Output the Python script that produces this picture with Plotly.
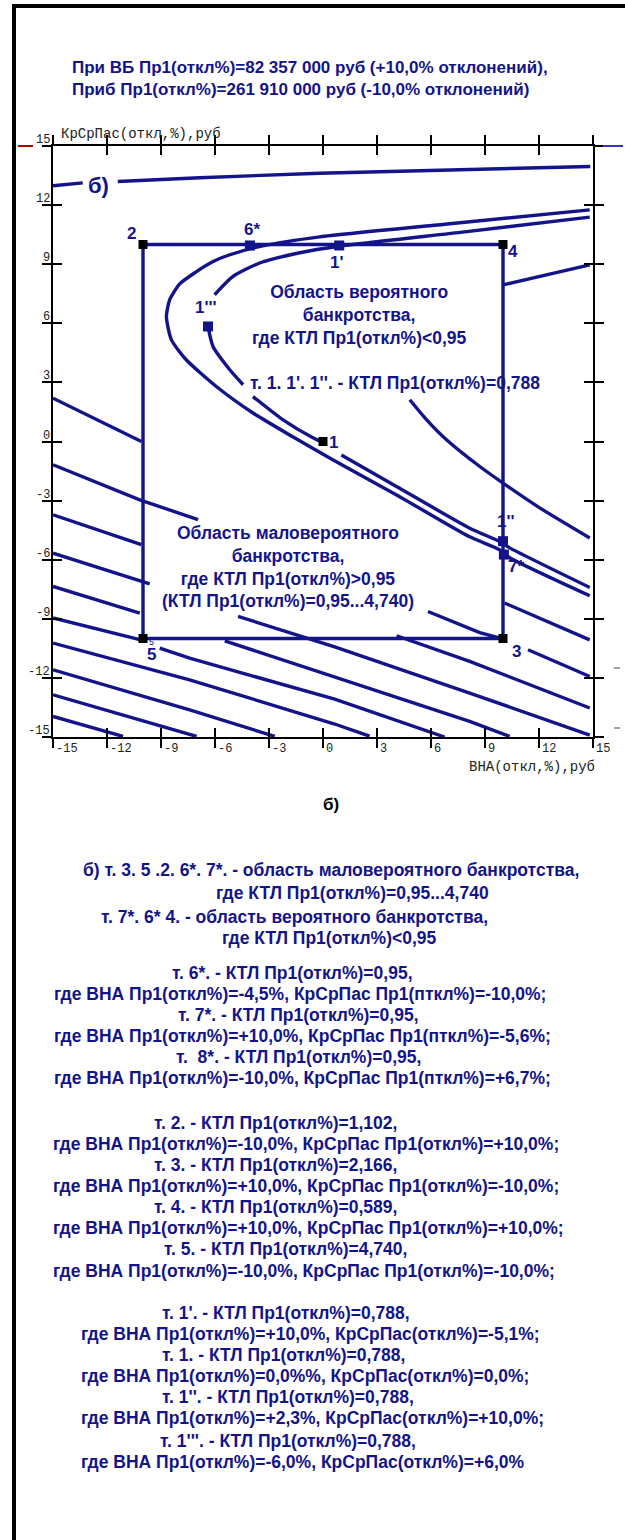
import plotly.graph_objects as go

# ---------------- data ----------------
x_ticks = [-15, -12, -9, -6, -3, 0, 3, 6, 9, 12, 15]
y_ticks = [-15, -12, -9, -6, -3, 0, 3, 6, 9, 12, 15]

# contour lines (None = gap in the drawn line)
top_x = [-15.0, -13.35, None, -11.4, -6.85, -0.18, 7.04, 14.85]
top_y = [12.98, 13.13, None, 13.2, 13.39, 13.62, 13.79, 13.96]

c095_x = [14.82, 6.76, -0.18, -3.35, -5.18, -6.13, -7.13, -7.96, -8.52, -8.7, -8.42, -7.6,
          -5.91, -3.91, -1.68, 0.54, 4.09, 8.15, 9.82, 10.37, 14.82]
c095_y = [11.76, 11.03, 10.39, 9.93, 9.48, 9.12, 8.56, 8.0, 7.19, 6.33, 5.16, 4.15,
          2.78, 1.46, 0.24, -0.93, -2.71, -4.84, -5.5, -5.9, -7.83]

c0788_x = [14.82, 7.87, 0.89, -1.29, -3.52, -5.0, -6.02, None,
           -6.39, -6.11, -5.18, -4.44, None,
           -3.89, -2.22, -0.56, 0.0, None,
           1.02, 4.08, 8.15, 9.82, 10.37, 14.82]
c0788_y = [11.39, 10.64, 9.91, 9.58, 9.06, 8.38, 7.45, None,
           5.84, 4.82, 3.64, 2.88, None,
           2.28, 1.1, 0.19, -0.05, None,
           -0.68, -2.28, -4.4, -5.08, -5.4, -7.41]

c3_x = [10.0, 14.82, None, 4.82, 5.76, 6.86, 8.71, 10.0, 12.04, 14.82]
c3_y = [7.95, 8.97, None, 2.12, 1.1, 0.09, -1.27, -2.11, -3.37, -4.9]

fam_x = [
    [-15, -10.09, None, 10.09, 14.82],
    [-15, -10.18, -6.94, None, 5.83, 8.71, 10.0, None, 11.39, 14.82],
    [-15, -10.09, None, 4.09, 8.15, 14.82],
    [-15, -9.63, None, -4.72, 0.65, 8.15, 14.82],
    [-15, -10.18, None, -5.46, 0.65, 8.15, 10.37],
    [-15, -10.18, None, -9.07, -7.41, 0.65, 6.76],
    [-15, -7.41, 0.65, 2.59],
    [-15, -7.41, -2.68],
    [-15, -7.02],
    [-15, -11.11],
]
fam_y = [
    [2.2, 0.0, None, -8.2, -10.07],
    [-1.18, -2.96, -3.97, None, -8.63, -9.7, -10.02, None, -10.57, -11.93],
    [-3.72, -5.24, None, -9.86, -11.16, -13.53],
    [-5.67, -7.23, None, -8.88, -10.42, -12.77, -14.9],
    [-7.36, -8.71, None, -10.12, -11.94, -14.21, -14.97],
    [-8.96, -10.06, None, -10.49, -11.0, -13.08, -15.0],
    [-10.23, -12.1, -14.34, -14.96],
    [-11.59, -13.62, -14.97],
    [-12.86, -14.97],
    [-13.96, -14.97],
]

rect_x = [-10, 10, 10, -10, -10]
rect_y = [10, 10, -10, -10, 10]

black_pts_x = [-10, 10, 10, -10, 0]
black_pts_y = [10, 10, -10, -10, 0]
navy_pts_x = [-4.06, 0.9, -6.39, 10.0, 10.05]
navy_pts_y = [9.95, 9.95, 5.84, -5.06, -5.74]

point_labels = ["2", "6*", "1'", "4", "1'''", "1", "1''", "7*", "3", "5"]
point_label_x = [-10.64, -3.94, 0.78, 10.56, -6.52, 0.61, 10.18, 10.74, 10.74, -9.53]
point_label_y = [10.54, 10.78, 9.09, 9.64, 6.8, -0.05, -4.08, -6.35, -10.66, -10.83]

title_lines = ["При ВБ Пр1(откл%)=82 357 000 руб (+10,0% отклонений),",
               "Приб Пр1(откл%)=261 910 000 руб (-10,0% отклонений)"]

notes = [
    "б) т. 3. 5 .2. 6*. 7*. - область маловероятного банкротства,",
    "где КТЛ Пр1(откл%)=0,95...4,740",
    "т. 7*. 6* 4. - область вероятного банкротства,",
    "где КТЛ Пр1(откл%)&lt;0,95",
    "т. 6*. - КТЛ Пр1(откл%)=0,95,",
    "где ВНА Пр1(откл%)=-4,5%, КрСрПас Пр1(пткл%)=-10,0%;",
    "т. 7*. - КТЛ Пр1(откл%)=0,95,",
    "где ВНА Пр1(откл%)=+10,0%, КрСрПас Пр1(пткл%)=-5,6%;",
    "т.  8*. - КТЛ Пр1(откл%)=0,95,",
    "где ВНА Пр1(откл%)=-10,0%, КрСрПас Пр1(пткл%)=+6,7%;",
    "т. 2. - КТЛ Пр1(откл%)=1,102,",
    "где ВНА Пр1(откл%)=-10,0%, КрСрПас Пр1(откл%)=+10,0%;",
    "т. 3. - КТЛ Пр1(откл%)=2,166,",
    "где ВНА Пр1(откл%)=+10,0%, КрСрПас Пр1(откл%)=-10,0%;",
    "т. 4. - КТЛ Пр1(откл%)=0,589,",
    "где ВНА Пр1(откл%)=+10,0%, КрСрПас Пр1(откл%)=+10,0%;",
    "т. 5. - КТЛ Пр1(откл%)=4,740,",
    "где ВНА Пр1(откл%)=-10,0%, КрСрПас Пр1(откл%)=-10,0%;",
    "т. 1'. - КТЛ Пр1(откл%)=0,788,",
    "где ВНА Пр1(откл%)=+10,0%, КрСрПас(откл%)=-5,1%;",
    "т. 1. - КТЛ Пр1(откл%)=0,788,",
    "где ВНА Пр1(откл%)=0,0%%, КрСрПас(откл%)=0,0%;",
    "т. 1''. - КТЛ Пр1(откл%)=0,788,",
    "где ВНА Пр1(откл%)=+2,3%, КрСрПас(откл%)=+10,0%;",
    "т. 1'''. - КТЛ Пр1(откл%)=0,788,",
    "где ВНА Пр1(откл%)=-6,0%, КрСрПас(откл%)=+6,0%",
]

# ---------------- layout helpers (pixel positions of texts) ----------------
W, H = 625, 1540
ML, MR, MT, MB = 53, 32, 146, 803
PL, PR, PT, PB = ML, W - MR, MT, H - MB


def fx(xp):
    return (xp - PL) / (PR - PL)


def fy(yp):
    return (PB - yp) / (PB - PT)


NAVY = "#13138a"
LW = 3.4
LINE = dict(color=NAVY, width=LW)
FONT = "Liberation Sans"
MONO = "Liberation Mono"
TXT = 17.5

fig = go.Figure()

# top line on overlay axes (makes the crossing ticks work)
fig.add_trace(go.Scatter(x=top_x, y=top_y, mode="lines", line=LINE,
                         xaxis="x2", yaxis="y2", hoverinfo="skip"))
for xs, ys in zip(fam_x, fam_y):
    fig.add_trace(go.Scatter(x=xs, y=ys, mode="lines", line=LINE, hoverinfo="skip"))
for xs, ys in [(c095_x, c095_y), (c0788_x, c0788_y), (c3_x, c3_y)]:
    fig.add_trace(go.Scatter(x=xs, y=ys, mode="lines",
                             line=dict(color=NAVY, width=LW, shape="spline", smoothing=0.6)))
fig.add_trace(go.Scatter(x=rect_x, y=rect_y, mode="lines", line=LINE))
fig.add_trace(go.Scatter(x=navy_pts_x, y=navy_pts_y, mode="markers",
                         marker=dict(symbol="square", size=10, color=NAVY)))
fig.add_trace(go.Scatter(x=black_pts_x, y=black_pts_y, mode="markers",
                         marker=dict(symbol="square", size=9, color="black")))

ann = []
# tick labels
for v in y_ticks:
    ann.append(dict(x=-15, y=v, xref="x", yref="y", text=str(v), showarrow=False,
                    xanchor="right", yanchor="bottom", xshift=-1, yshift=-3,
                    font=dict(family=MONO, size=12, color="#222")))
for v in x_ticks:
    ann.append(dict(x=v, y=-15, xref="x", yref="y", text=str(v), showarrow=False,
                    xanchor="left", yanchor="top", xshift=1, yshift=-3,
                    font=dict(family=MONO, size=12, color="#222")))
ann.append(dict(x=fx(59), y=fy(134), xref="paper", yref="paper", text="КрСрПас(откл,%),руб",
                showarrow=False, xanchor="left", yanchor="middle",
                font=dict(family=MONO, size=14, color="#222")))
ann.append(dict(x=fx(597), y=fy(767), xref="paper", yref="paper", text="ВНА(откл,%),руб",
                showarrow=False, xanchor="right", yanchor="middle",
                font=dict(family=MONO, size=14, color="#222")))

# point labels
for t, lx, ly in zip(point_labels, point_label_x, point_label_y):
    ann.append(dict(x=lx, y=ly, xref="x", yref="y", text="<b>" + t + "</b>", showarrow=False,
                    font=dict(family=FONT, size=17, color=NAVY)))
ann.append(dict(x=-9.55, y=-10.2, xref="x", yref="y", text="5", showarrow=False,
                font=dict(family=FONT, size=9, color=NAVY)))
ann.append(dict(x=-12.46, y=12.97, xref="x", yref="y", text="<b>б)</b>", showarrow=False,
                font=dict(family=FONT, size=22, color=NAVY)))

# region texts
ann.append(dict(x=2.0, y=6.43, xref="x", yref="y",
                text="<b>Область вероятного<br>банкротства,<br>где КТЛ Пр1(откл%)&lt;0,95</b>",
                showarrow=False, align="center", font=dict(family=FONT, size=TXT, color=NAVY)))
ann.append(dict(x=-4.17, y=2.98, xref="x", yref="y", xanchor="left",
                text="<b>т. 1. 1'. 1''. - КТЛ Пр1(откл%)=0,788</b>",
                showarrow=False, font=dict(family=FONT, size=TXT, color=NAVY)))
ann.append(dict(x=-1.95, y=-6.36, xref="x", yref="y",
                text="<b>Область маловероятного<br>банкротства,<br>где КТЛ Пр1(откл%)&gt;0,95"
                     "<br>(КТЛ Пр1(откл%)=0,95...4,740)</b>",
                showarrow=False, align="center", font=dict(family=FONT, size=TXT, color=NAVY)))

# title
for t, yp in zip(title_lines, [67, 89]):
    ann.append(dict(x=fx(70), y=fy(yp), xref="paper", yref="paper", text="<b>" + t + "</b>",
                    showarrow=False, xanchor="left", yanchor="middle",
                    font=dict(family=FONT, size=17, color=NAVY)))

# caption
ann.append(dict(x=fx(331), y=fy(816), xref="paper", yref="paper", text="<b>б)</b>",
                showarrow=False, font=dict(family=FONT, size=17, color="black")))

note_x = [81, 214, 99, 220, 170, 52, 176, 52, 174, 52, 152, 51, 152, 51, 152, 51, 162, 51,
          160, 79, 160, 79, 160, 79, 158, 79]
note_y = [870, 893, 917, 938, 973, 994, 1015, 1036, 1057, 1078, 1123, 1144, 1165, 1186, 1207,
          1228, 1249, 1271, 1313, 1334, 1355, 1376, 1397, 1418, 1441, 1462]
for t, xp, yp in zip(notes, note_x, note_y):
    ann.append(dict(x=fx(xp), y=fy(yp), xref="paper", yref="paper", text="<b>" + t + "</b>",
                    showarrow=False, xanchor="left", yanchor="middle",
                    font=dict(family=FONT, size=TXT, color=NAVY)))

shapes = [
    dict(type="rect", xref="paper", yref="paper", x0=fx(12), x1=fx(16), y0=fy(1540), y1=fy(4),
         fillcolor="black", line=dict(width=0)),
    dict(type="rect", xref="paper", yref="paper", x0=fx(12), x1=fx(625), y0=fy(8), y1=fy(4),
         fillcolor="black", line=dict(width=0)),
    dict(type="line", xref="paper", yref="paper", x0=fx(18), x1=fx(33), y0=fy(146), y1=fy(146),
         line=dict(color="#b00000", width=2)),
    dict(type="line", xref="paper", yref="paper", x0=fx(603), x1=fx(623), y0=fy(146), y1=fy(146),
         line=dict(color="#3535c8", width=2)),
    dict(type="line", xref="paper", yref="paper", x0=fx(614), x1=fx(620), y0=fy(668), y1=fy(668),
         line=dict(color="#444", width=1)),
    dict(type="line", xref="paper", yref="paper", x0=fx(614), x1=fx(620), y0=fy(728), y1=fy(728),
         line=dict(color="#444", width=1)),
]

ax = dict(range=[-15, 15], showgrid=False, zeroline=False, showline=True, linecolor="black",
          linewidth=2, ticklen=9, tickwidth=2, tickcolor="black", showticklabels=False,
          mirror="ticks", fixedrange=True)

fig.update_layout(
    width=W, height=H, margin=dict(l=ML, r=MR, t=MT, b=MB, pad=0),
    paper_bgcolor="white", plot_bgcolor="white", showlegend=False,
    xaxis=dict(**ax, ticks="outside", tickvals=x_ticks),
    yaxis=dict(**ax, ticks="outside", tickvals=y_ticks),
    xaxis2=dict(**ax, ticks="inside", tickvals=x_ticks, overlaying="x", anchor="y2"),
    yaxis2=dict(**ax, ticks="inside", tickvals=y_ticks, overlaying="y", anchor="x2"),
    annotations=ann, shapes=shapes,
)

fig.write_html("out.html", config={"displayModeBar": False},
               post_script="document.body.style.margin='0';")
